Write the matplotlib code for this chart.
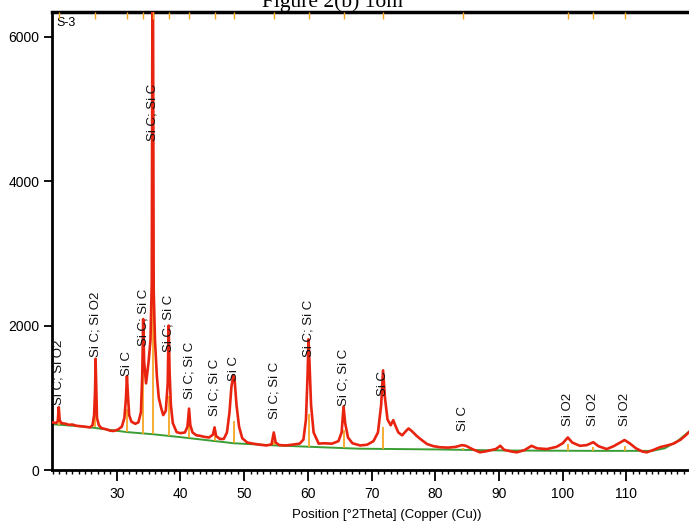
import matplotlib
matplotlib.use("Agg")
import matplotlib.pyplot as plt
from matplotlib.ticker import MultipleLocator

# ---- data ----
two_theta = [19.8, 20.0, 20.5, 20.75, 20.9, 21.05, 21.3, 22.0, 22.5, 23.0, 23.7, 24.5, 25.3, 25.8,
             26.2, 26.45, 26.6, 26.68, 26.78, 26.9, 27.2, 27.6, 28.3, 28.95, 29.5, 30.2, 30.8,
             31.2, 31.45, 31.6, 31.75, 31.95, 32.3, 32.9, 33.4, 33.8, 34.0, 34.15, 34.3, 34.6,
             35.0, 35.3, 35.5, 35.62, 35.68, 35.8, 36.0, 36.3, 36.6, 37.0, 37.3, 37.7, 38.0,
             38.15, 38.3, 38.5, 38.8, 39.4, 40.0, 40.7, 41.1, 41.35, 41.55, 41.9, 42.5, 43.0,
             43.7, 44.5, 45.1, 45.35, 45.6, 46.2, 46.8, 47.3, 47.7, 48.0, 48.3, 48.5, 48.8,
             49.2, 49.7, 50.5, 51.4, 52.5, 53.5, 54.3, 54.65, 54.95, 55.5, 56.6, 57.5, 58.7,
             59.3, 59.7, 59.95, 60.1, 60.25, 60.5, 60.9, 61.7, 62.5, 63.8, 64.8, 65.3, 65.6,
             65.85, 66.3, 67.0, 68.2, 69.3, 70.3, 71.0, 71.5, 71.8, 72.1, 72.5, 73.0, 73.4,
             73.8, 74.2, 74.8, 75.4, 75.8, 76.3, 77.1, 77.8, 78.7, 79.7, 80.75, 82.0, 83.2,
             84.2, 84.8, 85.8, 87.0, 88.0, 89.5, 90.2, 90.8, 92.0, 92.8, 94.0, 95.1, 96.0,
             97.5, 99.0, 100.0, 100.8, 101.5, 102.7, 103.8, 104.8, 105.6, 106.9, 108.0, 109.0,
             109.7, 110.5, 111.5, 112.5, 113.2, 114.3, 115.3, 116.4, 117.4, 118.5, 119.3,
             120.0, 121.0]
counts = [660, 660, 650, 680, 870, 690, 650, 640, 625, 630, 612, 605, 595, 590,
          620, 760, 1100, 1540, 1150, 720, 620, 580, 565, 545, 540, 560, 600,
          720, 1000, 1300, 1050, 760, 670, 640, 660, 800, 1300, 2090, 1500, 1200,
          1500, 1800, 2600, 7200, 7200, 2500, 1800, 1300, 1000, 850, 760, 820, 1200,
          2000, 1350, 900, 650, 525, 510, 520, 600, 850, 620, 520, 480, 475,
          460, 450, 490, 590, 470, 430, 430, 520, 800, 1150, 1310, 1250, 900,
          600, 440, 380, 365, 350, 340, 355, 520, 380, 345, 340, 350, 365,
          420, 700, 1300, 1810, 1500, 900, 520, 365, 370, 365, 400, 520, 880,
          650, 450, 370, 340, 350, 400, 520, 900, 1380, 1000, 700, 620, 690,
          600, 520, 480, 540, 575, 540, 470, 420, 360, 330, 315, 310, 320,
          345, 335, 290, 245, 260, 290, 335, 280, 255, 245, 275, 335, 300,
          290, 320, 370, 450, 380, 335, 345, 385, 330, 290, 330, 380,
          415, 370, 300, 255, 245, 280, 317, 340, 365, 420, 480,
          540, 620]

bg_theta = [19.8, 25.0, 31.6, 35.7, 40.0, 48.4, 55.0, 61.3, 68.0, 80.0, 91.0, 105.0, 112.0,
            114.0, 116.0, 118.0, 119.8, 121.0]
bg_counts = [635, 600, 525, 495, 455, 370, 340, 318, 295, 285, 270, 265, 265,
             265, 300, 400, 530, 640]

peak_pos = [20.9, 26.65, 31.6, 34.15, 35.65, 38.15, 41.35, 45.35, 48.35, 54.7, 60.1, 65.65,
            71.8, 84.4, 100.9, 104.8, 109.7]
peak_bg = [628, 590, 525, 505, 495, 470, 445, 405, 370, 340, 318, 300,
           290, 282, 268, 266, 265]
stick_top = [760, 800, 840, 1420, 4240, 1030, 640, 540, 680, 400, 780, 560,
             600, 310, 360, 320, 330]
peak_names = ["Si C; Si O2", "Si C; Si O2", "Si C", "Si C; Si C", "Si C; Si C", "Si C; Si C",
              "Si C; Si C", "Si C; Si C", "Si C", "Si C; Si C", "Si C; Si C", "Si C; Si C",
              "Si C", "Si C", "Si O2", "Si O2", "Si O2"]
label_base = [900, 1560, 1306, 1721, 4561, 1628, 988, 753, 1237, 711, 1559, 891,
              1030, 545, 614, 614, 614]

x_ticks = [30, 40, 50, 60, 70, 80, 90, 100, 110]
y_ticks = [0, 2000, 4000, 6000]

# ---- figure ----
W, H = 689, 527
fig = plt.figure(figsize=(W / 100, H / 100), dpi=100)
ax = fig.add_axes([52 / W, (H - 470) / H, (722 - 52) / W, (470 - 12) / H])

ax.plot(bg_theta, bg_counts, color="#3a9e35", lw=1.4, zorder=2)
ax.vlines(peak_pos, peak_bg, stick_top, color="#f5a623", lw=1.3, zorder=3)
ax.plot(two_theta, counts, color="#e8230f", lw=1.9, zorder=4)
ax.vlines(peak_pos, 0.985, 1.0, transform=ax.get_xaxis_transform(),
          color="#f5a623", lw=1.0, zorder=5, clip_on=False)

for p, name, yb in zip(peak_pos, peak_names, label_base):
    ax.text(p, yb, name, rotation=90, ha="center", va="bottom",
            fontsize=9.5, family="Liberation Sans", color="#111111", zorder=6)

ax.text(0.006, 0.99, "S-3", transform=ax.transAxes, ha="left", va="top",
        fontsize=9, family="Liberation Sans")

ax.set_xlim(19.84, 125.0)
ax.set_ylim(0, 6343)
ax.set_xticks(x_ticks)
ax.set_yticks(y_ticks)
ax.xaxis.set_minor_locator(MultipleLocator(1))
ax.tick_params(axis="x", which="major", direction="out", length=8, width=1.3,
               labelsize=10, pad=4)
ax.tick_params(axis="x", which="minor", direction="out", length=3, width=1.0)
ax.tick_params(axis="y", which="major", direction="out", length=6, width=1.3,
               labelsize=10, pad=3)
for lab in ax.get_xticklabels() + ax.get_yticklabels():
    lab.set_family("Liberation Sans")

for side in ["left", "bottom"]:
    ax.spines[side].set_linewidth(2.0)
ax.spines["top"].set_linewidth(2.5)
ax.spines["right"].set_linewidth(2.0)

ax.set_xlabel("Position [°2Theta] (Copper (Cu))", fontsize=9.5,
              family="Liberation Sans", labelpad=6)

fig.text(332 / W, 1 - 6.6 / H, "Figure 2(b) 1om", ha="center", va="baseline",
         fontsize=15.5, family="Liberation Serif")

fig.savefig("out.png", dpi=100)
